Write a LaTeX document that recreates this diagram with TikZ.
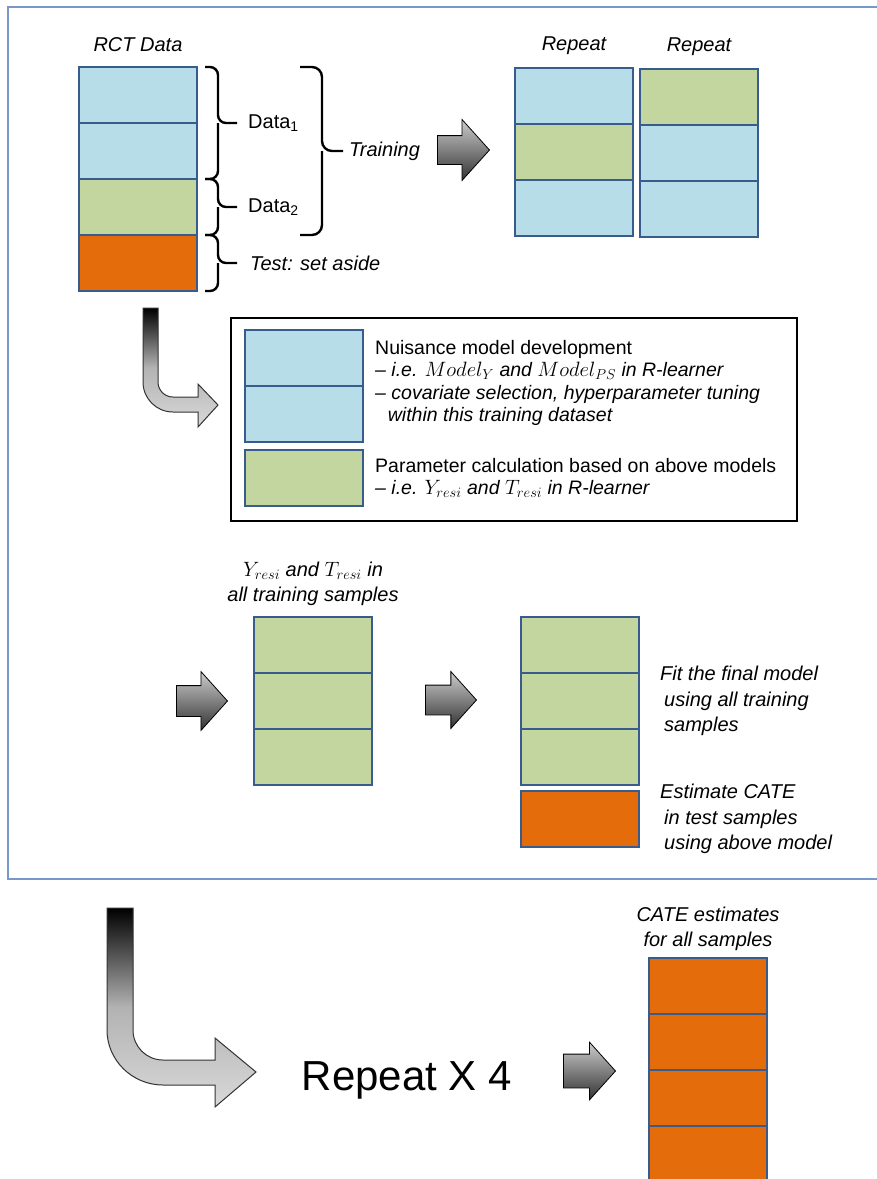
\documentclass[tikz,border=0pt]{standalone}
\usepackage{fontspec}
\setmainfont{Liberation Sans}
\usetikzlibrary{positioning,shapes.arrows}
\definecolor{cellBlue}{RGB}{183,221,232}
\definecolor{cellGreen}{RGB}{196,214,160}
\definecolor{cellOrange}{RGB}{228,108,10}
\definecolor{cellEdge}{RGB}{56,93,140}
\definecolor{frameBlue}{RGB}{120,152,204}

\tikzset{
  cell/.style={rectangle, draw=cellEdge, line width=2.2pt, minimum width=118pt,
    minimum height=56pt, inner sep=0pt, outer sep=0pt},
  bluecell/.style={cell, fill=cellBlue},
  greencell/.style={cell, fill=cellGreen},
  orangecell/.style={cell, fill=cellOrange},
  lbl/.style={font=\fontsize{20}{25}\selectfont\itshape, inner sep=1pt, align=center},
  boxtext/.style={font=\fontsize{19.5}{22.5}\selectfont, inner sep=1pt, align=left, anchor=west},
  sidetext/.style={font=\fontsize{20}{25.5}\selectfont\itshape, inner sep=1pt, align=left, anchor=west},
  bracepen/.style={draw=black, line width=2.4pt, rounded corners=8pt},
  blockarrow/.style={single arrow, draw=black, line width=0.8pt, top color=gray!40,
    bottom color=black!80, single arrow tip angle=96, anchor=tip, inner xsep=0pt},
  bentarrow/.style={draw=black!80, line width=1pt, top color=black, bottom color=gray!30,
    middle color=gray!60},
}

\begin{document}
\begin{tikzpicture}[x=1pt, y=-1pt]
  \useasboundingbox (0,0) rectangle (877,1179);
  % outer frame
  \draw[frameBlue, line width=2pt] (8,7) rectangle (890,879);

  % RCT data column
  \node[bluecell, anchor=north west] (rct1) at (79,67) {};
  \node[bluecell, below=0pt of rct1] (rct2) {};
  \node[greencell, below=0pt of rct2] (rct3) {};
  \node[orangecell, below=0pt of rct3] (rct4) {};
  \node[lbl, above=14pt of rct1] (rctlbl) {RCT Data};

  % braces
  \draw[bracepen] ([xshift=8pt]rct1.north east) -| ([xshift=21pt]rct1.south east)
    -- ([xshift=40pt]rct1.south east) node[right=9pt, font=\fontsize{20}{24}\selectfont,
    inner sep=1pt] (data1) {Data\textsubscript{1}};
  \draw[bracepen] ([xshift=8pt]rct2.south east) -| ([xshift=21pt]rct1.south east);
  \draw[bracepen] ([xshift=8pt]rct3.north east) -| ([xshift=21pt]rct3.east)
    -- ([xshift=40pt]rct3.east) node[right=9pt, font=\fontsize{20}{24}\selectfont,
    inner sep=1pt] (data2) {Data\textsubscript{2}};
  \draw[bracepen] ([xshift=8pt]rct3.south east) -| ([xshift=21pt]rct3.east);
  \draw[bracepen] ([xshift=8pt]rct4.north east) -| ([xshift=21pt]rct4.east)
    -- ([xshift=40pt]rct4.east) node[lbl, right=11pt] (testlbl) {Test: set aside};
  \draw[bracepen] ([xshift=8pt]rct4.south east) -| ([xshift=21pt]rct4.east);
  \draw[bracepen, rounded corners=10pt] ([xshift=103pt]rct1.north east)
    -| ([xshift=125pt]rct2.east) -- ([xshift=146pt]rct2.east)
    node[lbl, right=4pt] (trainlbl) {Training};
  \draw[bracepen, rounded corners=10pt] ([xshift=103pt]rct3.south east)
    -| ([xshift=125pt]rct2.east);

  \node[blockarrow, minimum height=52pt, inner ysep=14pt,
    single arrow head extend=16pt] (arr1) at (490,150) {};

  % repeated splits
  \node[bluecell, anchor=north west] (repA1) at (515,68) {};
  \node[greencell, below=0pt of repA1] (repA2) {};
  \node[bluecell, below=0pt of repA2] (repA3) {};
  \node[greencell, anchor=north west] (repB1) at (640,69) {};
  \node[bluecell, below=0pt of repB1] (repB2) {};
  \node[bluecell, below=0pt of repB2] (repB3) {};
  \node[lbl, above=12pt of repA1] (repAlbl) {Repeat};
  \node[lbl, above=12pt of repB1] (repBlbl) {Repeat};

  % nuisance models
  \draw[bentarrow] (143,308) -- (158,308) -- (158,382)
    .. controls (158,390.3) and (164.7,397) .. (173,397) -- (198,397) -- (198,384)
    -- (218,405) -- (198,427) -- (198,412) -- (173,412)
    .. controls (156.4,412) and (143,398.6) .. (143,382) -- cycle;
  \node[draw=black, line width=1.5pt, minimum width=566pt, minimum height=203pt,
    inner sep=0pt, anchor=north west] (nuisbox) at (230,317) {};
  \node[bluecell, anchor=north west] (nuis1) at (245,330) {};
  \node[bluecell, below=0pt of nuis1] (nuis2) {};
  \node[greencell, below=8pt of nuis2] (nuis3) {};
  \node[boxtext, right=11pt of nuis1.south east, yshift=3pt] (nuistext)
    {Nuisance model development\\
     \textit{-- i.e. $Model_Y$ and $Model_{PS}$ in R-learner}\\
     \textit{-- covariate selection, hyperparameter tuning}\\
     \textit{\hspace*{0.65em}within this training dataset}};
  \node[boxtext, right=11pt of nuis3.east] (paramtext)
    {Parameter calculation based on above models\\
     \textit{-- i.e. $Y_{resi}$ and $T_{resi}$ in R-learner}};

  % final model
  \node[blockarrow, minimum height=51pt, inner ysep=15pt,
    single arrow head extend=14pt] (arr2) at (228,701) {};
  \node[greencell, anchor=north west] (midA1) at (254,617) {};
  \node[greencell, below=0pt of midA1] (midA2) {};
  \node[greencell, below=0pt of midA2] (midA3) {};
  \node[lbl, above=10pt of midA1] (residlbl)
    {$Y_{resi}$ and $T_{resi}$ in\\all training samples};
  \node[blockarrow, minimum height=51pt, inner ysep=14.5pt,
    single arrow head extend=13.5pt] (arr3) at (477,700) {};
  \node[greencell, anchor=north west] (midB1) at (521,617) {};
  \node[greencell, below=0pt of midB1] (midB2) {};
  \node[greencell, below=0pt of midB2] (midB3) {};
  \node[orangecell, below=6pt of midB3] (midB4) {};
  \node[sidetext, right=20pt of midB2] (fittext)
    {Fit the final model\\\hspace*{4pt}using all training\\\hspace*{4pt}samples};
  \node[sidetext, right=20pt of midB4] (esttext)
    {Estimate CATE\\\hspace*{4pt}in test samples\\\hspace*{4pt}using above model};

  % repeat over folds
  \draw[bentarrow] (107,908) -- (133,908) -- (133,1030)
    .. controls (133,1046.6) and (146.4,1060) .. (163,1060) -- (215,1060) -- (215,1038)
    -- (256,1072) -- (215,1107) -- (215,1085) -- (163,1085)
    .. controls (132.1,1085) and (107,1060.1) .. (107,1030) -- cycle;
  \node[font=\fontsize{42}{50}\selectfont, inner sep=0pt, anchor=base] (repeatx) at (407,1090)
    {Repeat X 4};
  \node[blockarrow, minimum height=52pt, inner ysep=16.5pt,
    single arrow head extend=12pt] (arr4) at (616,1071) {};
  \node[orangecell, anchor=north west] (cate1) at (649,958) {};
  \node[orangecell, below=0pt of cate1] (cate2) {};
  \node[orangecell, below=0pt of cate2] (cate3) {};
  \node[orangecell, below=0pt of cate3] (cate4) {};
  \node[lbl, above=6pt of cate1] (catelbl) {CATE estimates\\for all samples};
\end{tikzpicture}
\end{document}
